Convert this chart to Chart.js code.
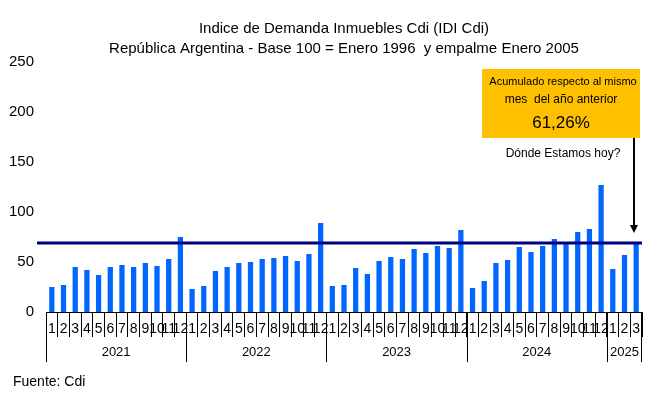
<!DOCTYPE html>
<html>
<head>
<meta charset="utf-8">
<script src="https://cdn.jsdelivr.net/npm/chart.js@4"></script>
<style>
  html, body { margin: 0; padding: 0; background: #fff; }
  #wrap { width: 656px; height: 395px; }
</style>
</head>
<body>
<div id="wrap"><canvas id="myChart" width="656" height="395"></canvas></div>
<script>
const FONT = "'Liberation Sans', Arial, sans-serif";

const monthLabels = [
    '1', '2', '3', '4', '5', '6', '7', '8', '9', '10', '11', '12',
    '1', '2', '3', '4', '5', '6', '7', '8', '9', '10', '11', '12',
    '1', '2', '3', '4', '5', '6', '7', '8', '9', '10', '11', '12',
    '1', '2', '3', '4', '5', '6', '7', '8', '9', '10', '11', '12',
    '1', '2', '3'
];
const yearLabels = ['2021', '2022', '2023', '2024', '2025'];
const monthsPerYear = [12, 12, 12, 12, 3];

const idiValues = [
    25, 27, 45, 42, 37, 45, 47, 45, 49, 46, 53, 75,
    23, 26, 41, 45, 49, 50, 53, 54, 56, 51, 58, 89,
    26, 27, 44, 38, 51, 55, 53, 63, 59, 66, 64, 82,
    24, 31, 49, 52, 65, 60, 66, 73, 69, 80, 83, 127,
    43, 57, 69
];
const referenceLevel = 69;
const yTicks = [0, 50, 100, 150, 200, 250];

const titleLines = [
    'Indice de Demanda Inmuebles Cdi (IDI Cdi)',
    'República Argentina - Base 100 = Enero 1996  y empalme Enero 2005'
];
const noteLines = ['Acumulado respecto al mismo', 'mes  del año anterior'];
const noteValue = '61,26%';
const noteQuestion = 'Dónde Estamos hoy?';
const sourceText = 'Fuente: Cdi';

// reference line drawn over the bars
const refLine = {
    id: 'refLine',
    afterDatasetsDraw(chart) {
        const { ctx, chartArea, scales: { y } } = chart;
        const py = y.getPixelForValue(referenceLevel);
        ctx.save();
        ctx.strokeStyle = '#000080';
        ctx.lineWidth = 3;
        ctx.beginPath();
        ctx.moveTo(chartArea.left - 9, py);
        ctx.lineTo(chartArea.right, py);
        ctx.stroke();
        ctx.restore();
    }
};

// year row under the month labels + source note
const yearRow = {
    id: 'yearRow',
    afterDraw(chart) {
        const { ctx, scales: { x } } = chart;
        const half = (x.getPixelForValue(1) - x.getPixelForValue(0)) / 2;
        const top = x.top;
        const bottom = x.top + 50;
        ctx.save();
        ctx.strokeStyle = '#000';
        ctx.lineWidth = 1;
        ctx.fillStyle = '#000';
        ctx.font = '13px ' + FONT;
        ctx.textAlign = 'center';
        ctx.textBaseline = 'middle';
        let start = 0;
        let right = 0;
        yearLabels.forEach((yr, i) => {
            const end = start + monthsPerYear[i];
            const left = x.getPixelForValue(start) - half;
            right = x.getPixelForValue(end - 1) + half;
            ctx.beginPath();
            ctx.moveTo(Math.round(left) + 0.5, top);
            ctx.lineTo(Math.round(left) + 0.5, bottom);
            ctx.stroke();
            ctx.fillText(yr, (left + right) / 2, top + 40);
            start = end;
        });
        ctx.beginPath();
        ctx.moveTo(Math.round(right) - 0.5, top);
        ctx.lineTo(Math.round(right) - 0.5, bottom);
        ctx.stroke();

        ctx.textAlign = 'left';
        ctx.font = '14px ' + FONT;
        ctx.fillText(sourceText, 13, 382);
        ctx.restore();
    }
};

// callout box with arrow to the last bar
const callout = {
    id: 'callout',
    afterDraw(chart) {
        const { ctx, scales: { x, y } } = chart;
        const ax = Math.round(x.getPixelForValue(idiValues.length - 1)) - 2;
        const tipY = y.getPixelForValue(referenceLevel) - 10;
        const bx = 482, by = 69, bw = 158, bh = 69;
        ctx.save();
        ctx.fillStyle = '#FFC000';
        ctx.fillRect(bx, by, bw, bh);
        ctx.fillStyle = '#000';
        ctx.textAlign = 'center';
        ctx.textBaseline = 'middle';
        ctx.font = '11px ' + FONT;
        ctx.fillText(noteLines[0], bx + bw / 2 + 2, by + 13);
        ctx.font = '12px ' + FONT;
        ctx.fillText(noteLines[1], bx + bw / 2, by + 31);
        ctx.font = '17px ' + FONT;
        ctx.fillText(noteValue, bx + bw / 2, by + 54);
        ctx.font = '12px ' + FONT;
        ctx.fillText(noteQuestion, 563, 154);

        ctx.strokeStyle = '#000';
        ctx.lineWidth = 2;
        ctx.beginPath();
        ctx.moveTo(ax, by + bh);
        ctx.lineTo(ax, tipY - 6);
        ctx.stroke();
        ctx.beginPath();
        ctx.moveTo(ax - 4, tipY - 8);
        ctx.lineTo(ax + 4, tipY - 8);
        ctx.lineTo(ax, tipY);
        ctx.closePath();
        ctx.fill();
        ctx.restore();
    }
};

function renderChart() {
    const ctx = document.getElementById('myChart');
    return new Chart(ctx, {
        type: 'bar',
        data: {
            labels: monthLabels,
            datasets: [{
                data: idiValues,
                label: 'IDI Cdi',
                backgroundColor: '#0066FF',
                borderWidth: 0,
                barPercentage: 0.45,
                categoryPercentage: 1
            }]
        },
        plugins: [refLine, yearRow, callout],
        options: {
            responsive: false,
            animation: false,
            devicePixelRatio: 1,
            layout: { padding: { left: 0, right: 14, top: 0, bottom: 0 } },
            plugins: {
                legend: { display: false },
                tooltip: { enabled: false },
                title: {
                    display: true,
                    text: titleLines,
                    fullSize: false,
                    color: '#000',
                    font: { family: FONT, size: 15, weight: 'normal', lineHeight: 1.34 },
                    padding: { top: 19, bottom: 3 }
                }
            },
            scales: {
                x: {
                    grid: {
                        display: true,
                        drawOnChartArea: false,
                        drawTicks: true,
                        tickLength: 25,
                        offset: true,
                        color: '#000',
                        lineWidth: 1
                    },
                    border: { display: true, color: '#000', width: 1 },
                    ticks: {
                        autoSkip: false,
                        maxRotation: 0,
                        minRotation: 0,
                        padding: -16,
                        color: '#000',
                        font: { family: FONT, size: 14 }
                    },
                    afterFit(scale) { scale.height = 83; }
                },
                y: {
                    min: 0,
                    max: 250,
                    afterBuildTicks(scale) { scale.ticks = yTicks.map(v => ({ value: v })); },
                    grid: { display: false, drawTicks: false },
                    border: { display: false },
                    ticks: {
                        padding: 12,
                        color: '#000',
                        font: { family: FONT, size: 15 }
                    },
                    afterFit(scale) { scale.width = 46; }
                }
            }
        }
    });
}

renderChart();
</script>
</body>
</html>
